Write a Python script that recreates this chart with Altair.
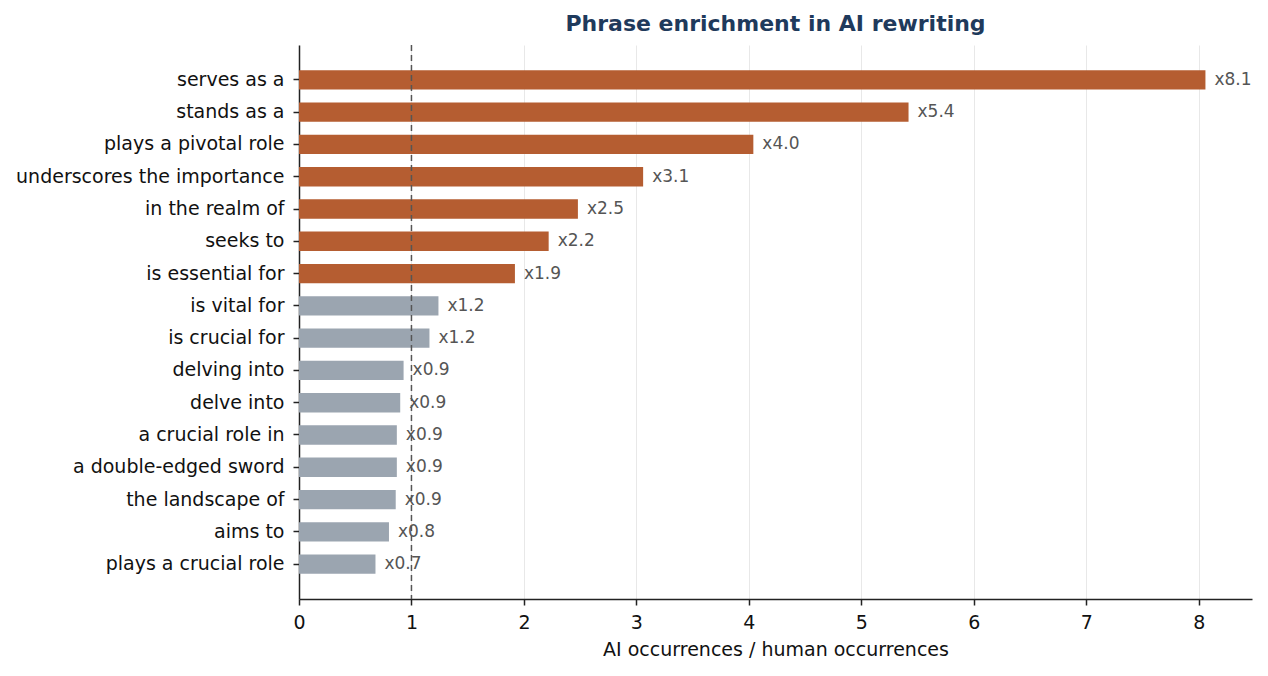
import altair as alt
import pandas as pd

phrases = [
    "serves as a", "stands as a", "plays a pivotal role", "underscores the importance",
    "in the realm of", "seeks to", "is essential for", "is vital for", "is crucial for",
    "delving into", "delve into", "a crucial role in", "a double-edged sword",
    "the landscape of", "aims to", "plays a crucial role",
]
ratios = [8.06, 5.42, 4.04, 3.06, 2.48, 2.22, 1.92, 1.24, 1.16,
          0.93, 0.90, 0.87, 0.87, 0.86, 0.80, 0.68]
groups = ["enriched"] * 7 + ["other"] * 9

df = pd.DataFrame({"phrase": phrases, "ratio": ratios, "group": groups})
ref_df = pd.DataFrame({"x": [1.0]})

FONT = "DejaVu Sans"
W, H = 953, 554

y_enc = alt.Y(
    "phrase:N", sort=phrases, title=None,
    scale=alt.Scale(paddingInner=0.4, paddingOuter=0.78),
    axis=alt.Axis(labelFontSize=19, labelColor="#111", labelFont=FONT, labelLimit=500,
                  tickSize=6, tickColor="#222", tickWidth=1.5, labelPadding=9,
                  domainColor="#222", domainWidth=1.5, grid=False),
)
x_scale = alt.Scale(domain=[0, 8.474], nice=False, zero=True)
x_enc = alt.X(
    "ratio:Q", scale=x_scale, title="AI occurrences / human occurrences",
    axis=alt.Axis(values=list(range(9)), format="d", labelFontSize=19, labelColor="#111",
                  labelFont=FONT, titleFont=FONT, titleFontSize=19, titleFontWeight="normal",
                  titleColor="#111", titlePadding=8, tickSize=6, tickColor="#222",
                  tickWidth=1.5, domainColor="#222", domainWidth=1.5, labelPadding=8,
                  labelFlush=False,
                  grid=True, gridColor="#e8e8e8", gridWidth=1),
)

bars = alt.Chart(df).mark_bar().encode(
    x=x_enc,
    y=y_enc,
    color=alt.Color("group:N", scale=alt.Scale(domain=["enriched", "other"],
                                               range=["#b55d31", "#9ba5b0"]), legend=None),
)

labels = alt.Chart(df).transform_calculate(
    lab="'x' + format(datum.ratio, '.1f')"
).mark_text(align="left", baseline="middle", dx=9, fontSize=17, font=FONT, color="#555").encode(
    x=alt.X("ratio:Q", scale=x_scale),
    y=alt.Y("phrase:N", sort=phrases),
    text="lab:N",
)

rule = alt.Chart(ref_df).mark_rule(color="#555", strokeDash=[6, 4], strokeWidth=1.5).encode(
    x=alt.X("x:Q", scale=x_scale)
)

chart = alt.layer(bars, rule, labels).properties(
    width=W, height=H,
    title=alt.TitleParams("Phrase enrichment in AI rewriting", fontSize=22, fontWeight="bold",
                          color="#1f3a5c", font=FONT, anchor="middle", frame="group", offset=8),
    padding={"left": 7, "top": 5, "right": 5, "bottom": 5},
).configure_view(stroke=None)

chart.save("out.html", embed_options={"renderer": "svg", "actions": False})
